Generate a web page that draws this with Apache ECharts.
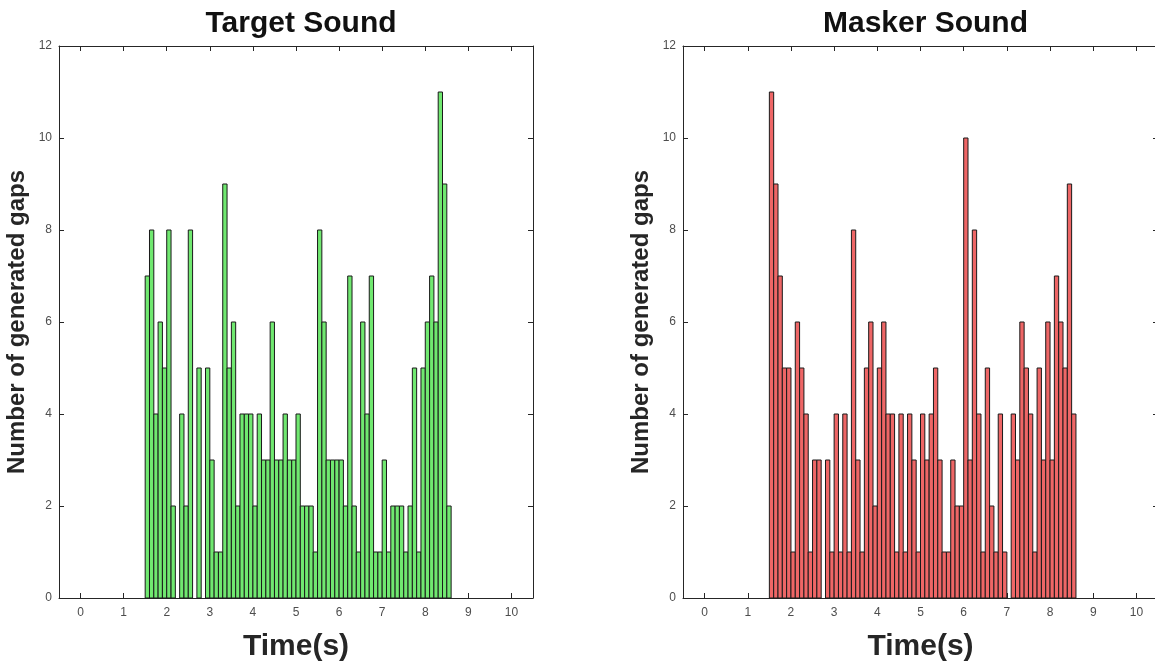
<!DOCTYPE html>
<html>
<head>
<meta charset="utf-8">
<script src="https://cdn.jsdelivr.net/npm/echarts@6/dist/echarts.min.js"></script>
<style>
html,body{margin:0;padding:0;background:#fff;overflow:hidden;width:1155px;height:668px;}
#chart{width:1170px;height:668px;}
</style>
</head>
<body>
<div id="chart"></div>
<script>
// ---- data ----
const binStart = 1.5;      // left edge of first histogram bin (s)
const binWidth = 0.1;      // bin width (s)
const targetCounts = [7,8,4,6,5,8,2,0,4,2,8,0,5,0,5,3,1,1,9,5,6,2,4,4,4,2,4,3,3,6,3,3,4,3,3,4,2,2,2,1,8,6,3,3,3,3,2,7,2,1,6,4,7,1,1,3,1,2,2,2,1,2,5,1,5,6,7,6,11,9,2];
const maskerCounts = [11,9,7,5,5,1,6,5,4,1,3,3,0,3,1,4,1,4,1,8,3,1,5,6,2,5,6,4,4,1,4,1,4,3,1,4,3,4,5,3,1,1,3,2,2,10,3,8,4,1,5,2,1,4,1,0,4,3,6,5,4,1,5,3,6,3,7,6,5,9,4];
const xTicks = [0,1,2,3,4,5,6,7,8,9,10];
const yTicks = [0,2,4,6,8,10,12];
const titles = ['Target Sound', 'Masker Sound'];
const xName = 'Time(s)';
const yName = 'Number of generated gaps';

function toBins(counts){
  return counts.map((c,i)=>[binStart + i*binWidth, binStart + (i+1)*binWidth, c]);
}

const FONT = "'Liberation Sans', Arial, Helvetica, sans-serif";
const axisColor = '#262626';
const labelColor = '#4d4d4d';

const grids = [
  {left:59, top:46, width:474, height:552},
  {left:683, top:46, width:475, height:552}
];

const xAxes = [], yAxes = [], series = [], titleOpts = [];
const fills = ['#70E870', '#EE6666'];
const datasets = [targetCounts, maskerCounts];

grids.forEach((g, gi) => {
  const xBase = {
    type:'value', gridIndex:gi, min:-0.5, max:10.5,
    axisLine:{show:true, onZero:false, lineStyle:{color:axisColor, width:1}},
    splitLine:{show:false},
  };
  xAxes.push(Object.assign({}, xBase, {
    position:'bottom',
    axisTick:{show:true, inside:true, length:5, customValues:xTicks, lineStyle:{color:axisColor}},
    axisLabel:{show:true, customValues:xTicks, color:labelColor, fontSize:12, fontFamily:FONT, margin:9},
    name:xName, nameLocation:'middle', nameGap:34,
    nameTextStyle:{fontSize:30, fontWeight:'bold', color:axisColor, fontFamily:FONT, verticalAlign:'top'}
  }));
  xAxes.push(Object.assign({}, xBase, {
    position:'top',
    axisTick:{show:true, inside:true, length:5, customValues:xTicks, lineStyle:{color:axisColor}},
    axisLabel:{show:false}
  }));
  const yBase = {
    type:'value', gridIndex:gi, min:0, max:12, interval:2,
    axisLine:{show:true, onZero:false, lineStyle:{color:axisColor, width:1}},
    splitLine:{show:false},
  };
  yAxes.push(Object.assign({}, yBase, {
    position:'left',
    axisTick:{show:true, inside:true, length:5, lineStyle:{color:axisColor}},
    axisLabel:{show:true, color:labelColor, fontSize:12, fontFamily:FONT, margin:7},
    name:yName, nameLocation:'middle', nameGap:30, nameRotate:90,
    nameTextStyle:{fontSize:24, fontWeight:'bold', color:axisColor, fontFamily:FONT}
  }));
  yAxes.push(Object.assign({}, yBase, {
    position:'right',
    axisTick:{show:true, inside:true, length:5, lineStyle:{color:axisColor}},
    axisLabel:{show:false}
  }));
  titleOpts.push({
    text:titles[gi], left:g.left + g.width/2, top:4, textAlign:'center',
    textStyle:{fontSize:30, fontWeight:'bold', color:'#111', fontFamily:FONT}
  });
  series.push({
    type:'custom',
    xAxisIndex:gi*2, yAxisIndex:gi*2,
    data:toBins(datasets[gi]),
    renderItem:function(params, api){
      const v = api.value(2);
      if (!v) return null;
      const p0 = api.coord([api.value(0), v]);
      const p1 = api.coord([api.value(1), 0]);
      return {
        type:'rect',
        shape:{x:p0[0], y:p0[1], width:p1[0]-p0[0], height:p1[1]-p0[1]},
        style:{fill:fills[gi], stroke:'#1a1a1a', lineWidth:1}
      };
    },
    encode:{x:[0,1], y:2},
    silent:true
  });
});

const chart = echarts.init(document.getElementById('chart'), null, {renderer:'canvas'});
chart.setOption({
  animation:false,
  backgroundColor:'#ffffff',
  title:titleOpts,
  grid:grids,
  xAxis:xAxes,
  yAxis:yAxes,
  series:series
});
</script>
</body>
</html>
